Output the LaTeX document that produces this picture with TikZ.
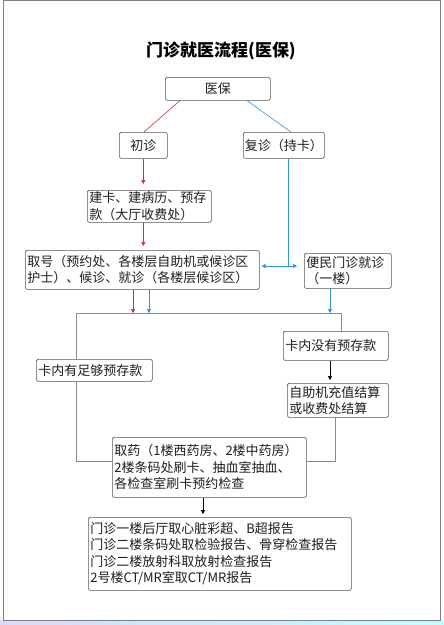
\documentclass[tikz,border=0pt]{standalone}
\usepackage{fontspec}
\newfontfamily\cjk{Noto Sans CJK SC}
\usetikzlibrary{arrows.meta}
\definecolor{redl}{HTML}{C83232}
\definecolor{bluel}{HTML}{2E96D2}
\definecolor{grayl}{HTML}{8C8C8C}
\definecolor{boxc}{HTML}{555555}
\definecolor{txt}{HTML}{1E1E1E}
\begin{document}
\begin{tikzpicture}[x=1pt,y=-1pt,
  fcbox/.style={draw=boxc, line width=0.6pt, rounded corners=1.5pt, anchor=north west,
    inner xsep=2pt, inner ysep=1pt, align=left, text=txt,
    font=\cjk\fontsize{13}{16.5}\selectfont},
  fcboxc/.style={fcbox, align=center},
  conn/.style={line width=0.6pt},
  arr/.style={-{Triangle[length=4pt,width=4pt]}},
]
\useasboundingbox (0,0) rectangle (444,625);
\fill[white] (0,0) rectangle (444,625);
\shade[left color=blue!15, middle color=orange!45, right color=cyan!25] (0,620) rectangle (444,625);
\draw[gray, line width=0.8pt] (3,0.5) rectangle (440,620);

\node[font=\cjk\bfseries\fontsize{17}{20}\selectfont, text=black] (title) at (221,51) {门诊就医流程(医保)};

\node[fcboxc, text width=101pt, minimum height=23pt] (yb) at (165,77) {医保};
\node[fcboxc, text width=44pt, minimum height=26pt] (cz) at (119,132) {初诊};
\node[fcboxc, inner xsep=1.5pt, text width=78pt, minimum height=26pt] (fz) at (243,132) {复诊（持卡）};
\node[fcbox, text width=120pt, minimum height=32pt] (jk) at (87,190) {建卡、建病历、预存\\款（大厅收费处）};
\node[fcbox, text width=230pt, minimum height=39pt] (qh) at (25,250) {取号（预约处、各楼层自助机或候诊区\\护士）、候诊、就诊（各楼层候诊区）};
\node[fcbox, text width=83pt, minimum height=35pt] (bm) at (304,253) {便民门诊就诊\\（一楼）};
\node[fcbox, text width=101pt, minimum height=29pt] (km) at (283,331) {卡内没有预存款};
\node[fcbox, text width=112pt, minimum height=22pt] (ky) at (36,359) {卡内有足够预存款};
\node[fcbox, text width=97pt, minimum height=34pt] (zz) at (287,383) {自助机充值结算\\或收费处结算};
\node[fcbox, text width=190pt, minimum height=60pt] (qy) at (112,437) {取药（1楼西药房、2楼中药房）\\2楼条码处刷卡、抽血室抽血、\\各检查室刷卡预约检查};
\node[fcbox, text width=259pt, minimum height=73pt] (bg) at (88,517) {门诊一楼后厅取心脏彩超、B超报告\\门诊二楼条码处取检验报告、骨穿检查报告\\门诊二楼放射科取放射检查报告\\2号楼CT/MR室取CT/MR报告};

\draw[conn, redl] ([xshift=15pt]yb.south west) -- ([xshift=25pt]cz.north west);
\draw[conn, bluel] ([xshift=82pt]yb.south west) -- ([xshift=48pt]fz.north west);
\draw[conn, redl, arr, shorten >=6pt] (cz.south) -- (cz.south |- jk.north);
\draw[conn, redl, arr, shorten >=4pt] (jk.south -| cz.south) -- (qh.north -| cz.south);

\coordinate (fb) at ([xshift=45pt]fz.south west);
\coordinate (J) at (288,266);
\draw[conn, bluel] (fb) -- (J);
\draw[conn, bluel, arr, shorten >=2pt] (J) -- (J -| qh.east);
\draw[conn, bluel, arr, shorten >=7pt] (J) -- (J -| bm.west);

\coordinate (L) at (76,313);
\coordinate (R) at (341,313);
\draw[conn, grayl] (L |- ky.north) -- (L) -- (R) -- (R |- km.north);
\coordinate (qr) at ([xshift=108pt]qh.south west);
\coordinate (qb) at ([xshift=124pt]qh.south west);
\coordinate (bb) at ([xshift=26pt]bm.south west);
\draw[conn, redl, arr] (qr) -- (qr |- L);
\draw[conn, bluel, arr] (qb) -- (qb |- L);
\draw[conn, bluel, arr] (bb) -- (bb |- L);

\draw[conn, black, arr, shorten >=3pt] (bb |- km.south) -- (bb |- zz.north);

\coordinate (ML) at (76,461);
\coordinate (MR) at (335,461);
\draw[conn, grayl] (L |- ky.south) -- (ML) -- (ML -| qy.west);
\draw[conn, grayl] (MR |- zz.south) -- (MR) -- (MR -| qy.east);

\coordinate (qd) at ([xshift=91pt]qy.south west);
\draw[conn, black, arr, shorten >=3pt] (qd) -- (qd |- bg.north);
\end{tikzpicture}
\end{document}
